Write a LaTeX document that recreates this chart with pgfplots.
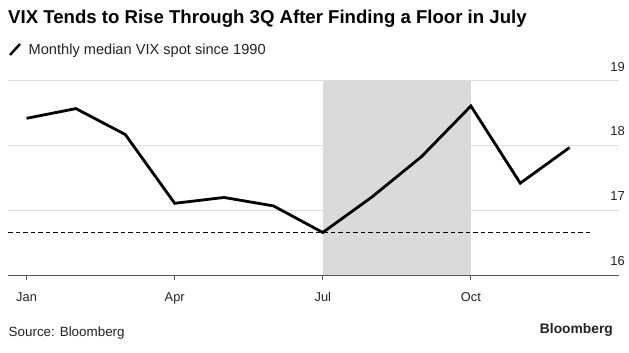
\documentclass[border=0pt]{standalone}
\usepackage{pgfplots}
\pgfplotsset{compat=1.18}
\usepackage{fontspec}
\setmainfont{Liberation Sans}
\definecolor{gridc}{HTML}{DEDEDE}
\definecolor{shade}{HTML}{DADADA}
\definecolor{axisc}{HTML}{555555}
\definecolor{txt}{HTML}{222222}
\begin{document}
\begin{tikzpicture}[x=1pt,y=1pt]
\useasboundingbox (0,0) rectangle (629,-353);
\begin{axis}[
  at={(8.3pt,-275.3pt)}, anchor=south west,
  scale only axis, width=610.7pt, height=194.6pt,
  xmin=-0.37, xmax=12.0, ymin=16, ymax=19,
  axis x line=bottom, axis y line=right,
  x axis line style={draw=axisc, line width=0.9pt, -},
  y axis line style={draw=none},
  ytick={16,17,18,19},
  ymajorgrids, grid style={draw=gridc, line width=1.3pt},
  y tick style={draw=none},
  yticklabel style={anchor=south east, xshift=4.3pt, yshift=6pt, font=\fontsize{13}{13}\selectfont, text=txt},
  xtick={0,3,6,9}, xticklabels={Jan,Apr,Jul,Oct},
  x tick style={draw=axisc, line width=0.9pt},
  tick align=outside, major tick length=5pt,
  xticklabel style={font=\fontsize{12.8}{12.8}\selectfont, text=txt, yshift=-8.5pt},
  /pgf/number format/assume math mode=true,
  clip=false,
]
\addplot[fill=shade, draw=none] coordinates {(6,16) (9,16) (9,19) (6,19)} -- cycle;
\addplot[black, line width=1pt, dash pattern=on 4.5pt off 3pt] coordinates {(-0.37,16.66) (11.46,16.66)};
\addplot[black, line width=2.8pt, line join=miter] coordinates {
(0,18.42) (1,18.57) (2,18.17) (3,17.11) (4,17.20) (5,17.07)
(6,16.66) (7,17.21) (8,17.83) (9,18.61) (10,17.42) (11,17.97)};
\end{axis}
\node[anchor=base west, inner sep=0, font=\bfseries\fontsize{18.6}{18.6}\selectfont] at (8,-24) {VIX Tends to Rise Through 3Q After Finding a Floor in July};
\draw[black, line width=2.4pt] (10,-55) -- (20,-44);
\node[anchor=base west, inner sep=0, font=\fontsize{14.6}{14.6}\selectfont, text=txt] at (28.5,-54.3) {Monthly median VIX spot since 1990};
\node[anchor=base west, inner sep=0, font=\fontsize{13.4}{13.4}\selectfont, text=txt] at (8.5,-336) {Source: Bloomberg};
\node[anchor=base east, inner sep=0, font=\bfseries\fontsize{13.8}{13.8}\selectfont, text=txt] at (613,-333.3) {Bloomberg};
\end{tikzpicture}
\end{document}
